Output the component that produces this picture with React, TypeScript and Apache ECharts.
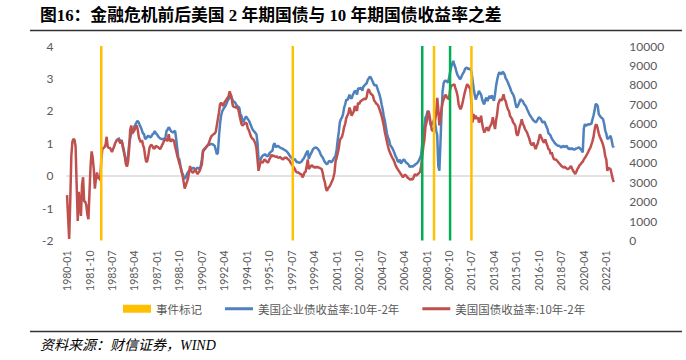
import React, { useEffect, useRef } from "react";
import * as echarts from "echarts";

// Monthly categories 1980-01 .. 2022-08
const categories: string[] = [];
for (let y = 1980; y <= 2022; y++) {
  for (let m = 1; m <= 12; m++) {
    if (y === 2022 && m > 8) break;
    categories.push(`${y}-${String(m).padStart(2, "0")}`);
  }
}

// 美国国债收益率:10年-2年 (from 1980-01)
const govSpread: number[] = [
  -0.6, -1.3, -1.95, -0.8, 0.6, 1.05, 1.13, 1.1, 0.9, -0.3, -1.4, -0.5,
  -0.9, -1.24, -0.3, -0.05, -0.8, -0.8, -0.9, -1.2, -1.34, -0.5, 0.3, 0.75,
  0.55, 0.2, -0.4, -0.1, 0.1, -0.1, 0.0, -0.15, 0.5, 0.82, 0.85, 0.88,
  0.95, 1.2, 0.9, 0.85, 0.87, 0.8, 0.73, 0.82, 0.9, 1.0, 1.07, 1.12,
  1.1, 1.05, 1.0, 1.08, 0.95, 0.8, 0.6, 0.35, 0.28, 0.42, 0.8, 1.4,
  1.55, 1.3, 1.35, 1.4, 1.5, 1.55, 1.44, 1.2, 1.1, 1.03, 1.1, 0.95,
  0.85, 0.6, 0.42, 0.45, 0.62, 0.85, 0.93, 0.95, 0.9, 0.83, 0.85, 0.92,
  0.9, 0.88, 0.85, 0.82, 0.88, 0.95, 1.02, 1.1, 1.13, 1.1, 1.07, 1.28,
  1.1, 1.05, 1.12, 1.1, 1.07, 0.9, 0.77, 0.62, 0.5, 0.38, 0.28, 0.12,
  0.0, -0.2, -0.4, -0.3, -0.2, -0.1, 0.1, 0.3, 0.15, 0.1, 0.1, 0.15,
  0.2, 0.1, 0.05, 0.1, 0.15, 0.25, 0.35, 0.7, 0.82, 0.85, 0.88, 0.92,
  0.95, 1.05, 1.15, 1.22, 1.25, 1.28, 1.3, 1.35, 1.55, 1.75, 1.95, 2.2,
  2.25, 2.2, 2.15, 2.25, 2.3, 2.35, 2.4, 2.45, 2.6, 2.5, 2.35, 2.15,
  2.12, 2.12, 2.1, 2.1, 2.05, 1.9, 1.74, 1.6, 1.54, 1.58, 1.6, 1.64,
  1.6, 1.45, 1.4, 1.3, 1.2, 1.15, 1.13, 1.07, 1.0, 0.85, 0.5, 0.15,
  0.3, 0.45, 0.42, 0.4, 0.48, 0.5, 0.45, 0.42, 0.4, 0.5, 0.55, 0.65,
  0.6, 0.62, 0.6, 0.58, 0.6, 0.56, 0.55, 0.58, 0.54, 0.52, 0.5, 0.55,
  0.55, 0.56, 0.52, 0.5, 0.46, 0.4, 0.35, 0.3, 0.25, 0.2, 0.12, 0.1,
  0.1, 0.08, 0.05, 0.05, -0.05, 0.0, 0.1, 0.12, 0.3, 0.5, 0.2, 0.25,
  0.3, 0.32, 0.28, 0.25, 0.27, 0.25, 0.28, 0.25, 0.24, 0.22, 0.2, 0.08,
  -0.1, -0.2, -0.4, -0.47, -0.38, -0.35, -0.3, -0.22, -0.15, -0.05, 0.1, 0.45,
  0.55, 0.7, 0.85, 1.1, 1.15, 1.2, 1.33, 1.5, 1.6, 1.78, 1.85, 1.92,
  2.1, 2.0, 1.85, 1.92, 1.98, 2.15, 2.05, 2.0, 2.25, 2.2, 2.28, 2.31,
  2.33, 2.36, 2.38, 2.35, 2.42, 2.6, 2.67, 2.58, 2.52, 2.5, 2.46, 2.32,
  2.28, 2.22, 2.2, 2.15, 2.05, 1.95, 1.85, 1.7, 1.55, 1.35, 1.2, 1.05,
  0.9, 0.78, 0.7, 0.62, 0.55, 0.5, 0.42, 0.33, 0.25, 0.2, 0.15, 0.1,
  0.05, 0.0, -0.05, 0.0, 0.03, 0.0, -0.05, -0.08, -0.1, -0.12, -0.1, -0.12,
  -0.05, 0.05, 0.0, 0.02, 0.05, 0.08, 0.12, 0.3, 0.6, 0.9, 1.1, 1.5,
  1.65, 1.85, 2.0, 1.8, 1.6, 1.4, 1.38, 1.44, 1.7, 1.9, 2.4, 2.05,
  1.55, 1.8, 2.05, 2.25, 2.35, 2.45, 2.5, 2.42, 2.38, 2.36, 2.65, 2.77,
  2.78, 2.8, 2.82, 2.7, 2.6, 2.46, 2.2, 2.1, 2.05, 2.15, 2.3, 2.46,
  2.6, 2.72, 2.82, 2.78, 2.72, 2.67, 2.2, 1.64, 1.9, 1.74, 1.85, 1.75,
  1.8, 1.64, 1.7, 1.85, 1.6, 1.44, 1.33, 1.4, 1.49, 1.45, 1.38, 1.5,
  1.55, 1.64, 1.8, 1.6, 1.44, 1.7, 1.9, 2.2, 2.3, 2.36, 2.31, 2.4,
  2.51, 2.35, 2.3, 2.15, 2.05, 2.0, 1.85, 1.8, 1.74, 1.64, 1.6, 1.54,
  1.3, 1.23, 1.33, 1.5, 1.6, 1.74, 1.6, 1.54, 1.44, 1.38, 1.33, 1.23,
  1.15, 1.02, 0.95, 0.95, 1.02, 0.9, 0.82, 0.92, 1.0, 1.13, 1.28, 1.2,
  1.13, 1.05, 1.02, 1.12, 1.0, 0.92, 0.82, 0.8, 0.66, 0.72, 0.6, 0.51,
  0.5, 0.5, 0.46, 0.42, 0.38, 0.35, 0.3, 0.28, 0.25, 0.27, 0.25, 0.22,
  0.2, 0.22, 0.25, 0.3, 0.22, 0.15, 0.1, 0.05, 0.12, 0.2, 0.25, 0.32,
  0.35, 0.4, 0.43, 0.5, 0.55, 0.6, 0.66, 0.72, 0.8, 0.85, 0.95, 1.05,
  1.18, 1.4, 1.56, 1.58, 1.45, 1.3, 1.2, 1.12, 1.05, 0.95, 0.82, 0.6,
  0.5, 0.15, 0.25, 0.22, 0.2, 0.05, -0.1, -0.2,
];

// 美国企业债收益率:10年-2年 (from 1984-01)
const corpStart = "1984-01";
const corpSpread: number[] = [
  1.18, 1.1, 1.05, 1.1, 0.9, 0.75, 0.62, 0.45, 0.45, 0.6, 0.95, 1.15,
  1.3, 1.38, 1.45, 1.52, 1.58, 1.65, 1.69, 1.64, 1.55, 1.49, 1.4, 1.3,
  1.28, 1.13, 1.15, 1.2, 1.23, 1.2, 1.18, 1.22, 1.28, 1.3, 1.38, 1.3,
  1.28, 1.22, 1.18, 1.15, 1.13, 1.13, 1.12, 1.15, 1.18, 1.38, 1.42, 1.49,
  1.45, 1.38, 1.35, 1.33, 1.36, 1.38, 1.13, 0.85, 0.55, 0.5, 0.3, 0.15,
  0.05, -0.02, -0.1, -0.05, 0.05, 0.1, 0.15, 0.18, 0.2, 0.22, 0.25, 0.22,
  0.2, 0.22, 0.25, 0.22, 0.2, 0.3, 0.5, 0.77, 0.8, 0.82, 0.88, 0.92,
  0.97, 0.95, 0.97, 0.98, 0.97, 0.95, 0.92, 0.8, 0.66, 0.7, 1.2, 1.6,
  1.85, 1.98, 2.05, 2.1, 2.15, 2.22, 2.31, 2.36, 2.41, 2.51, 2.4, 2.31,
  2.28, 2.26, 2.2, 2.15, 2.12, 2.1, 1.9, 1.85, 1.68, 1.65, 1.75, 1.82,
  1.8, 1.74, 1.7, 1.62, 1.54, 1.45, 1.4, 1.36, 1.32, 1.28, 1.02, 0.5,
  0.48, 0.51, 0.58, 0.62, 0.64, 0.66, 0.63, 0.6, 0.61, 0.68, 0.72, 0.75,
  0.77, 0.95, 1.0, 0.88, 0.9, 0.92, 0.9, 0.87, 0.85, 0.84, 0.82, 0.8,
  0.78, 0.76, 0.72, 0.68, 0.62, 0.58, 0.54, 0.51, 0.5, 0.51, 0.45, 0.41,
  0.42, 0.4, 0.41, 0.43, 0.48, 0.52, 0.58, 0.65, 0.72, 0.77, 0.52, 0.62,
  0.68, 0.75, 0.82, 0.85, 0.87, 0.86, 0.84, 0.8, 0.75, 0.66, 0.6, 0.56,
  0.48, 0.42, 0.38, 0.35, 0.4, 0.46, 0.44, 0.41, 0.45, 0.51, 0.56, 0.62,
  0.8, 1.1, 1.35, 1.65, 1.74, 1.8, 1.9, 2.1, 2.2, 2.35, 2.33, 2.4,
  2.5, 2.4, 2.38, 2.48, 2.55, 2.62, 2.6, 2.5, 2.68, 2.7, 2.67, 2.72,
  2.62, 2.75, 2.78, 2.82, 2.85, 2.95, 3.0, 3.05, 3.03, 2.95, 2.88, 2.8,
  2.78, 2.8, 2.7, 2.6, 2.5, 2.38, 2.2, 2.05, 1.85, 1.7, 1.5, 1.3,
  1.18, 1.1, 0.95, 0.9, 0.85, 0.78, 0.7, 0.6, 0.55, 0.45, 0.42, 0.5,
  0.38, 0.42, 0.48, 0.5, 0.45, 0.4, 0.38, 0.35, 0.28, 0.27, 0.3, 0.27,
  0.3, 0.33, 0.36, 0.38, 0.42, 0.48, 0.55, 0.65, 1.0, 1.3, 1.5, 1.8,
  1.85, 2.0, 1.95, 1.7, 1.55, 1.58, 1.62, 1.74, 1.64, 1.4, 1.25, 0.3,
  0.15, 1.0, 1.9, 2.6, 2.85, 2.93, 2.93, 2.9, 2.88, 3.0, 3.19, 3.35,
  3.45, 3.54, 3.42, 3.33, 3.2, 3.1, 3.05, 2.98, 3.0, 3.08, 3.15, 3.2,
  3.29, 3.33, 3.32, 3.29, 3.3, 3.29, 3.2, 2.95, 2.7, 2.5, 2.35, 2.45,
  2.51, 2.62, 2.55, 2.5, 2.35, 2.25, 2.2, 2.35, 2.41, 2.3, 2.4, 2.46,
  2.38, 2.48, 2.4, 2.31, 2.5, 2.77, 2.95, 3.1, 3.19, 3.15, 3.13, 3.2,
  3.18, 3.12, 3.0, 2.95, 2.88, 2.8, 2.72, 2.62, 2.55, 2.5, 2.41, 2.25,
  2.1, 2.13, 2.2, 2.28, 2.36, 2.32, 2.3, 2.22, 2.18, 2.13, 2.05, 1.98,
  1.9, 1.85, 1.8, 1.75, 1.7, 1.68, 1.64, 1.68, 1.74, 1.8, 1.78, 1.74,
  1.66, 1.64, 1.68, 1.6, 1.52, 1.45, 1.3, 1.28, 1.23, 1.15, 1.1, 1.05,
  1.0, 0.97, 0.94, 0.92, 0.92, 0.9, 0.87, 0.9, 0.92, 0.88, 0.9, 0.92,
  0.86, 0.82, 0.84, 0.82, 0.84, 0.82, 0.8, 0.82, 0.84, 0.85, 0.87, 0.86,
  0.82, 0.78, 0.72, 1.45, 1.59, 1.54, 1.56, 1.59, 1.57, 1.6, 1.59, 1.72,
  1.85, 2.0, 2.2, 2.2, 2.15, 1.9, 1.85, 1.8, 1.78, 1.74, 1.6, 1.4,
  1.3, 1.13, 1.15, 1.18, 1.23, 1.1, 0.92, 0.87,
];

// 事件标记
const yellowEvents: string[] = ["1982-09", "1997-08", "2008-08", "2011-07"];
const greenEvents: string[] = ["2007-09", "2009-11"];
const eventValue = 10000;

const leftTicks = { min: -2, max: 4, interval: 1 };
const rightTicks = { min: 0, max: 10000, interval: 1000 };

const TITLE = "图16：金融危机前后美国 2 年期国债与 10 年期国债收益率之差";
const SOURCE = "资料来源：财信证券，WIND";
const NAME_EVENT = "事件标记";
const NAME_CORP = "美国企业债收益率:10年-2年";
const NAME_GOV = "美国国债收益率:10年-2年";

export default function App() {
  const ref = useRef<HTMLDivElement>(null);
  useEffect(() => {
    if (!ref.current) return;
    const chart = echarts.init(ref.current, undefined, { renderer: "svg" });
    const startIdx = categories.indexOf(corpStart);
    const corpFull: (number | null)[] = categories.map((_, i) =>
      i < startIdx ? null : corpSpread[i - startIdx]
    );
    const eventData = categories.map((c) => {
      if (yellowEvents.includes(c)) return eventValue;
      if (greenEvents.includes(c))
        return { value: eventValue, itemStyle: { color: "#00B050" } };
      return null;
    });
    const axisFont = "Lato, 'Noto Sans', sans-serif";
    const lineIcon = "path://M0 0H28V3H0Z";
    chart.setOption({
      animation: false,
      backgroundColor: "#fff",
      grid: { left: 66.5, right: 71.7, top: 46, bottom: 119.5, containLabel: false },
      legend: {
        data: [
          { name: NAME_EVENT, icon: "rect" },
          { name: NAME_CORP, icon: lineIcon },
          { name: NAME_GOV, icon: lineIcon },
        ],
        left: 123,
        top: 303,
        padding: 0,
        itemWidth: 28,
        itemHeight: 8,
        itemGap: 23,
        symbolKeepAspect: true,
        textStyle: { color: "#595959", fontSize: 11.5, fontFamily: "'Noto Sans CJK SC', sans-serif" },
      },
      xAxis: {
        type: "category",
        data: categories,
        boundaryGap: true,
        axisLine: { show: false },
        axisTick: { show: false },
        splitLine: { show: false },
        axisLabel: {
          interval: 20,
          rotate: 90,
          margin: 10,
          fontSize: 10.5,
          color: "#595959",
          fontFamily: axisFont,
        },
      },
      yAxis: [
        {
          type: "value",
          position: "left",
          ...leftTicks,
          axisLine: { show: false },
          axisTick: { show: false },
          splitLine: { show: false },
          axisLabel: { color: "#595959", fontSize: 12, margin: 13, fontFamily: axisFont },
        },
        {
          type: "value",
          position: "right",
          ...rightTicks,
          axisLine: { show: false },
          axisTick: { show: false },
          splitLine: { show: false },
          axisLabel: {
            color: "#595959",
            fontSize: 12,
            margin: 15,
            fontFamily: axisFont,
            formatter: (v: number) => String(v),
          },
        },
      ],
      series: [
        {
          name: NAME_CORP,
          type: "line",
          data: corpFull,
          yAxisIndex: 0,
          symbol: "none",
          showSymbol: false,
          connectNulls: false,
          lineStyle: { color: "#4F81BD", width: 2.5 },
          itemStyle: { color: "#4F81BD" },
          z: 3,
        },
        {
          name: NAME_GOV,
          type: "line",
          data: govSpread,
          yAxisIndex: 0,
          symbol: "none",
          showSymbol: false,
          lineStyle: { color: "#C0504D", width: 2.5 },
          itemStyle: { color: "#C0504D" },
          z: 4,
          markLine: {
            silent: true,
            z: 1,
            symbol: ["none", "none"],
            label: { show: false },
            lineStyle: { color: "#D9D9D9", width: 1.5, type: "solid" },
            data: [{ yAxis: 0 }],
          },
        },
        {
          name: NAME_EVENT,
          type: "bar",
          data: eventData,
          yAxisIndex: 1,
          barWidth: 2.5,
          itemStyle: { color: "#FFC000" },
          z: 6,
        },
      ],
      graphic: [
        {
          type: "text",
          left: 40,
          top: 7,
          style: {
            text: TITLE,
            font: "bold 16.8px 'Liberation Serif', 'Noto Sans CJK SC', serif",
            fill: "#000",
          },
        },
        {
          type: "line",
          shape: { x1: 30, y1: 30.5, x2: 682, y2: 30.5 },
          style: { stroke: "#333", lineWidth: 1.5 },
        },
        {
          type: "line",
          shape: { x1: 30, y1: 331.5, x2: 682, y2: 331.5 },
          style: { stroke: "#333", lineWidth: 1.5 },
        },
        {
          type: "text",
          left: 40,
          top: 338,
          style: {
            text: SOURCE,
            font: "italic 14px 'Liberation Serif', 'Noto Sans CJK SC', serif",
            fill: "#000",
          },
        },
      ],
    });
    return () => chart.dispose();
  }, []);
  return (
    <div
      ref={ref}
      style={{ position: "absolute", left: 0, top: 0, width: 686, height: 360 }}
    />
  );
}
